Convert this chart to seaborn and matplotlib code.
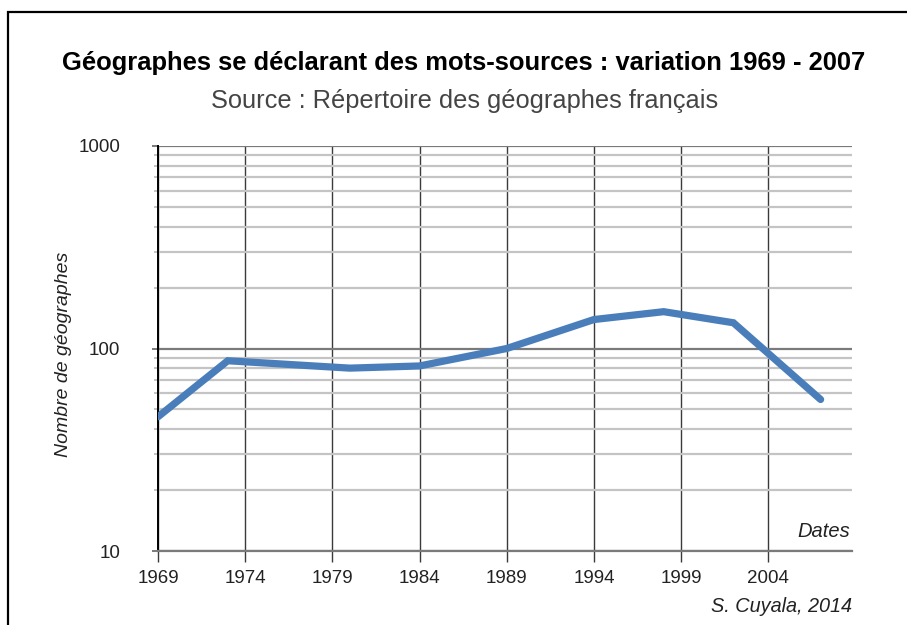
import pandas as pd
import numpy as np
import seaborn as sns
import matplotlib.pyplot as plt
from matplotlib.patches import Rectangle
from matplotlib.ticker import LogLocator, NullFormatter, FixedLocator

# values
years = [1969, 1973, 1980, 1984, 1989, 1994, 1998, 2002, 2007]
n_geographes = [46, 87, 80, 82, 100, 139, 152, 134, 56]
year_ticks = [1969, 1974, 1979, 1984, 1989, 1994, 1999, 2004]
y_ticks = [10, 100, 1000]

title = "Géographes se déclarant des mots-sources : variation 1969 - 2007"
subtitle = "Source : Répertoire des géographes français"
ylabel = "Nombre de géographes"
xlabel = "Dates"
credit = "S. Cuyala, 2014"

sns.set_style("white")
plt.rcParams["font.family"] = ["Liberation Sans", "DejaVu Sans"]

df = pd.DataFrame({"annee": years, "n": n_geographes})

fig = plt.figure(figsize=(9.07, 6.25), dpi=100)
ax = fig.add_axes([158 / 907, 1 - 551 / 625, (852 - 158) / 907, (551 - 146) / 625])

# frame of the original picture (top and left only, the rest is cut)
fig.patches.append(Rectangle((8 / 907, -0.1), 1.2, 1 - 12 / 625 + 0.1,
                             transform=fig.transFigure, fill=False,
                             edgecolor="black", linewidth=1.6, zorder=0))

ax.set_yscale("log")
ax.set_ylim(10, 1000)
ax.set_xlim(1969, 2008.8)

# grid
ax.yaxis.set_major_locator(FixedLocator(y_ticks))
ax.yaxis.set_minor_locator(LogLocator(base=10, subs=np.arange(2, 10)))
ax.yaxis.set_minor_formatter(NullFormatter())
ax.set_yticks(y_ticks)
ax.set_yticklabels([str(v) for v in y_ticks])
ax.set_xticks(year_ticks)
ax.set_xticklabels([str(v) for v in year_ticks])

ax.grid(True, which="minor", axis="y", color="#c4c4c4", linewidth=1.6, zorder=1)
ax.grid(True, which="major", axis="y", color="#7a7a7a", linewidth=1.6, zorder=1)
ax.grid(True, which="major", axis="x", color="#3a3a3a", linewidth=1.0, zorder=1)

sns.lineplot(data=df, x="annee", y="n", ax=ax, color="#4a7ebb",
             linewidth=5.2, zorder=3, solid_joinstyle="miter")

for s in ["top", "right"]:
    ax.spines[s].set_visible(False)
ax.spines["left"].set_color("black")
ax.spines["left"].set_linewidth(1.4)
ax.spines["bottom"].set_color("#7a7a7a")
ax.spines["bottom"].set_linewidth(1.6)

ax.tick_params(axis="x", which="major", direction="out", length=8, width=1,
               color="#3a3a3a", labelsize=13.5, pad=6, labelcolor="#222222")
ax.tick_params(axis="y", which="major", direction="out", length=4, width=1.4,
               color="#7a7a7a", labelsize=13.5, pad=23, labelcolor="#222222")
ax.tick_params(axis="y", which="minor", direction="out", length=3, width=1.4,
               color="#c4c4c4")
ax.tick_params(left=True, bottom=True, which="both")

ax.set_xlabel("")
ax.set_ylabel(ylabel, fontsize=14, style="italic", color="#222222")
ax.yaxis.set_label_coords(-0.124, 0.485)

ax.text(1.0 - 2 / 694, 0.025, xlabel, transform=ax.transAxes, ha="right",
        va="bottom", fontsize=14.5, style="italic", color="#222222")
fig.text(852 / 907, 1 - 606 / 625, credit, ha="right", va="center",
         fontsize=14.3, style="italic", color="#222222")

fig.text(464 / 907, 1 - 63 / 625, title, ha="center", va="center",
         fontsize=18.4, fontweight="bold", color="black")
fig.text(465 / 907, 1 - 101 / 625, subtitle, ha="center", va="center",
         fontsize=18.3, color="#444444")

fig.savefig("out.png", dpi=100)
